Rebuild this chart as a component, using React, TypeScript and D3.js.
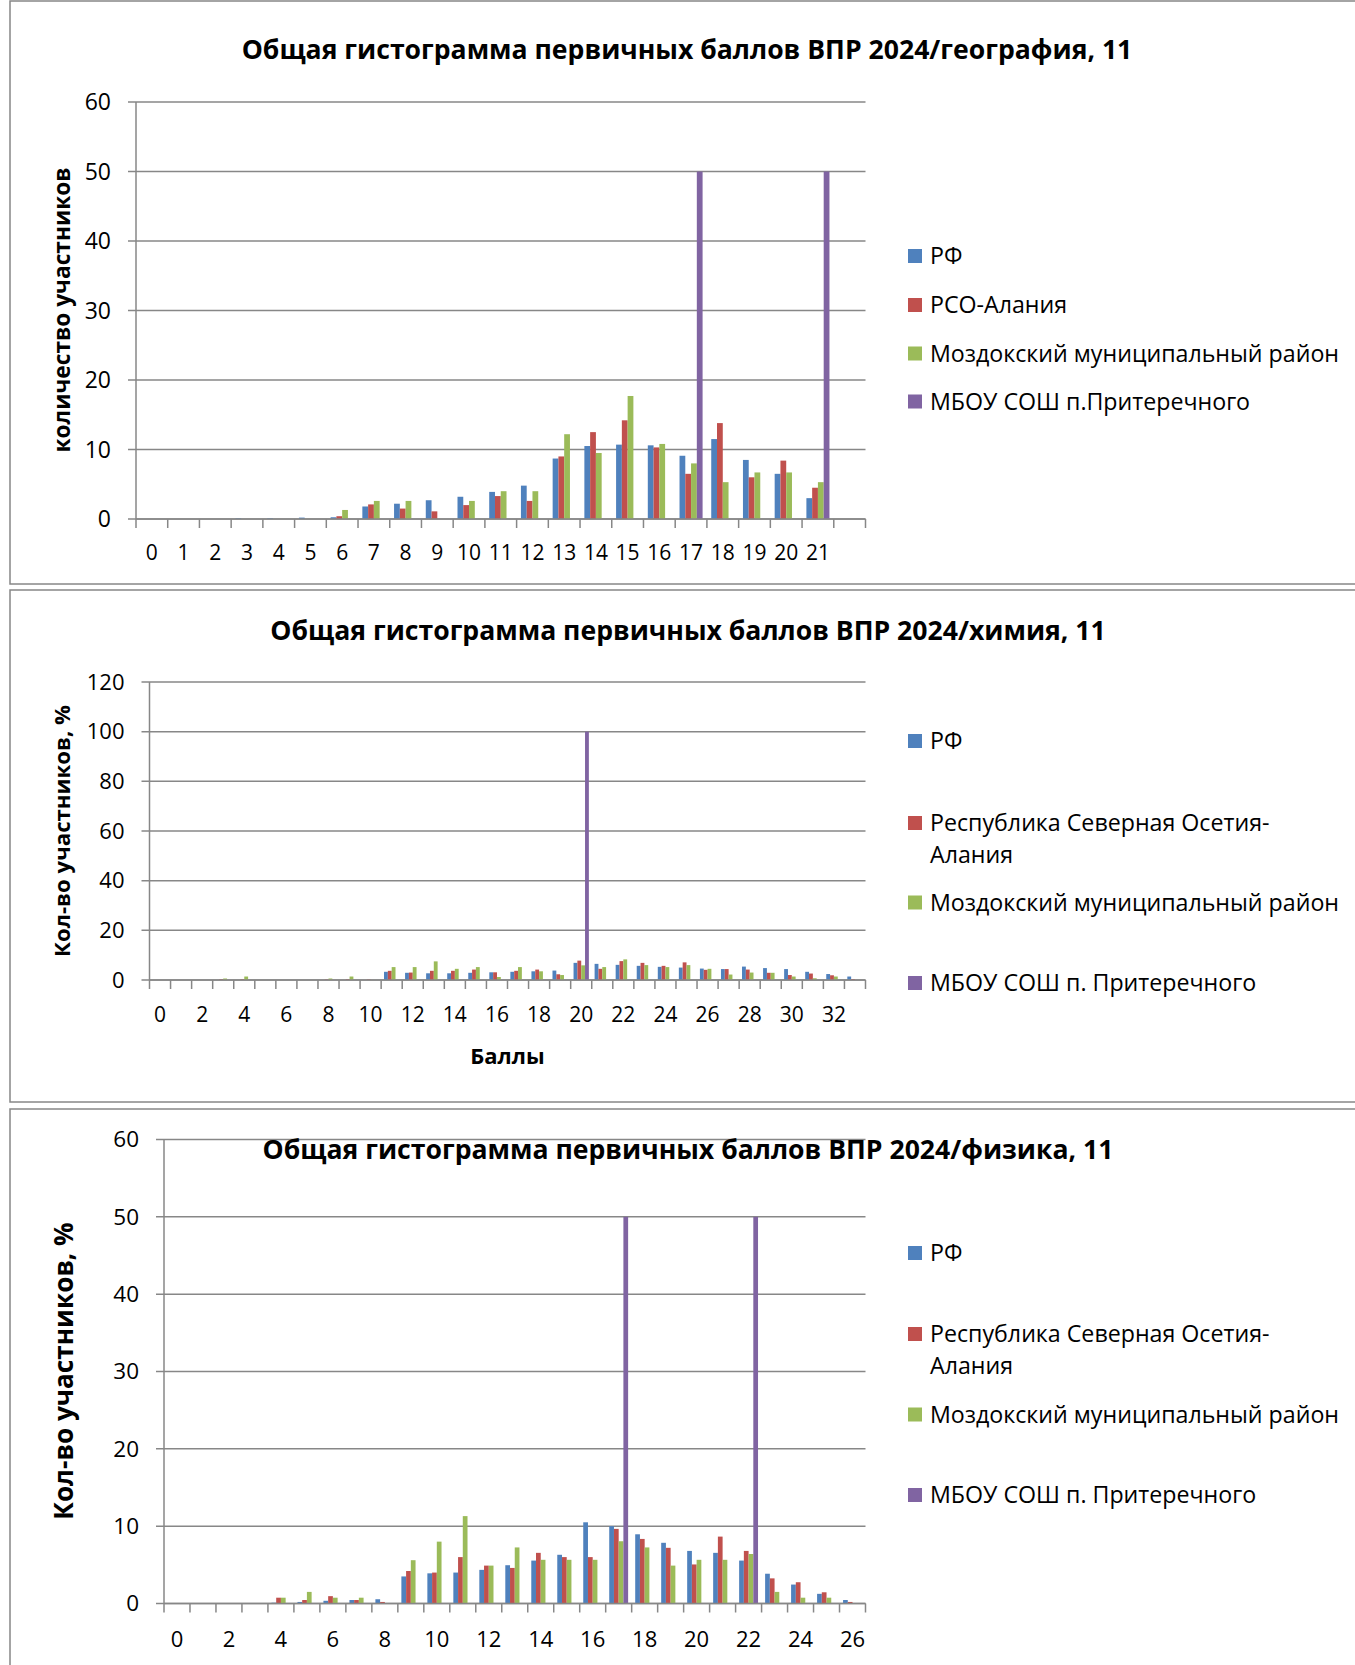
import React from 'react';
import * as d3 from 'd3';

// ---- series names / colours
const seriesKeys = ['rf', 'rso', 'moz', 'school'];
const seriesColors = ['#4F81BD', '#C0504D', '#9BBB59', '#8064A2'];

// ---- chart 1: география
const geoCats = ['0', '1', '2', '3', '4', '5', '6', '7', '8', '9', '10', '11', '12', '13', '14', '15', '16', '17', '18', '19', '20', '21', ''];
const geoRF = [0, 0, 0, 0.1, 0.1, 0.2, 0.25, 1.8, 2.2, 2.7, 3.2, 3.9, 4.8, 8.7, 10.5, 10.7, 10.6, 9.1, 11.5, 8.5, 6.5, 3.0, 0];
const geoRSO = [0, 0, 0, 0, 0, 0, 0.4, 2.1, 1.5, 1.1, 2.0, 3.3, 2.6, 9.0, 12.5, 14.2, 10.3, 6.5, 13.8, 6.0, 8.4, 4.5, 0];
const geoMoz = [0, 0, 0, 0, 0, 0, 1.3, 2.6, 2.6, 0, 2.6, 4.0, 4.0, 12.2, 9.5, 17.7, 10.8, 8.0, 5.3, 6.7, 6.7, 5.3, 0];
const geoSchool = [0, 0, 0, 0, 0, 0, 0, 0, 0, 0, 0, 0, 0, 0, 0, 0, 0, 50, 0, 0, 0, 50, 0];
const geoLegend = ['РФ', 'РСО-Алания', 'Моздокский муниципальный район', 'МБОУ СОШ п.Притеречного'];

// ---- chart 2: химия
const chemCats = ['0', '1', '2', '3', '4', '5', '6', '7', '8', '9', '10', '11', '12', '13', '14', '15', '16', '17', '18', '19', '20', '21', '22', '23', '24', '25', '26', '27', '28', '29', '30', '31', '32', '33'];
const chemRF = [0, 0, 0, 0, 0, 0, 0, 0, 0, 0, 0, 3.3, 2.9, 2.7, 2.7, 2.9, 3.1, 3.3, 3.5, 3.8, 6.9, 6.5, 6.1, 5.7, 5.3, 5.0, 4.6, 4.4, 5.4, 4.8, 4.4, 3.3, 2.4, 1.4];
const chemRSO = [0, 0, 0, 0.3, 0.3, 0, 0, 0, 0.2, 0.3, 0.2, 3.7, 3.0, 3.7, 3.7, 4.2, 3.1, 3.7, 4.2, 2.3, 7.8, 4.5, 7.6, 6.9, 5.7, 7.1, 4.1, 4.4, 4.2, 2.9, 2.0, 2.6, 1.9, 0.4];
const chemMoz = [0, 0, 0, 0.6, 1.4, 0, 0, 0, 0.6, 1.4, 0, 5.2, 5.2, 7.5, 4.5, 5.2, 1.2, 5.2, 3.5, 2.0, 5.9, 5.2, 8.3, 6.0, 5.2, 6.0, 4.5, 2.2, 3.0, 2.9, 1.4, 0.7, 1.4, 0];
const chemSchool = [0, 0, 0, 0, 0, 0, 0, 0, 0, 0, 0, 0, 0, 0, 0, 0, 0, 0, 0, 0, 100, 0, 0, 0, 0, 0, 0, 0, 0, 0, 0, 0, 0, 0];

// ---- chart 3: физика
const phyCats = ['0', '1', '2', '3', '4', '5', '6', '7', '8', '9', '10', '11', '12', '13', '14', '15', '16', '17', '18', '19', '20', '21', '22', '23', '24', '25', '26'];
const phyRF = [0, 0, 0.05, 0.05, 0.1, 0.2, 0.35, 0.45, 0.55, 3.5, 3.9, 4.0, 4.35, 4.95, 5.55, 6.3, 10.5, 10.0, 8.95, 7.85, 6.8, 6.55, 5.55, 3.85, 2.45, 1.25, 0.45];
const phyRSO = [0, 0, 0, 0, 0.75, 0.45, 0.95, 0.45, 0.2, 4.2, 4.0, 6.0, 4.9, 4.6, 6.55, 6.0, 6.0, 9.65, 8.35, 7.2, 5.05, 8.65, 6.8, 3.25, 2.75, 1.45, 0.2];
const phyMoz = [0, 0, 0, 0, 0.75, 1.5, 0.75, 0.75, 0, 5.6, 8.0, 11.3, 4.9, 7.25, 5.65, 5.65, 5.65, 8.05, 7.25, 4.9, 5.65, 5.65, 6.4, 1.5, 0.75, 0.75, 0];
const phySchool = [0, 0, 0, 0, 0, 0, 0, 0, 0, 0, 0, 0, 0, 0, 0, 0, 0, 50, 0, 0, 0, 0, 50, 0, 0, 0, 0];

// legend lines for charts 2 and 3 (second entry wraps)
const longLegend = [['РФ'], ['Республика Северная Осетия-', 'Алания'], ['Моздокский муниципальный район'], ['МБОУ СОШ п. Притеречного']];

const FONT = "'Open Sans', 'DejaVu Sans', sans-serif";
const GRID = '#878787';

function Chart({ cfg }) {
  const { cats, values, yMax, box, labelEvery } = cfg;
  const x0 = d3.scaleBand().domain(cats.map((c, i) => String(i))).range([box.left, box.right]);
  const x1 = d3.scaleBand().domain(seriesKeys).range([0, x0.bandwidth()]).paddingInner(0).paddingOuter(0.75);
  const y = d3.scaleLinear().domain([0, yMax]).range([box.bottom, box.top]);
  const yTicks = y.ticks(6);
  const bounds = d3.range(cats.length + 1).map(i => box.left + i * x0.step());

  return (
    <g fontFamily={FONT}>
      {/* gridlines + y ticks */}
      {yTicks.map(t => (
        <g key={'y' + t}>
          <line x1={box.left - 8} x2={box.right} y1={y(t)} y2={y(t)} stroke={GRID} strokeWidth={1.5} />
          <text x={box.left - 25} y={y(t)} dy="0.35em" textAnchor="end" fontSize={cfg.yFont} fill="#000">{t}</text>
        </g>
      ))}
      {/* title sits under the bars, like the overlap in chart 3 */}
      <text x={cfg.titleX} y={cfg.titleY} dy="0.35em" textAnchor="middle" fontWeight="bold" fontSize={cfg.titleFont}>{cfg.title}</text>
      {/* bars */}
      {cats.map((c, i) => (
        <g key={'b' + i} transform={`translate(${x0(String(i))},0)`}>
          {seriesKeys.map((k, s) => {
            const v = values[s][i];
            if (!v) return null;
            return <rect key={k} x={x1(k)} width={x1.bandwidth()} y={y(v)} height={y(0) - y(v)} fill={seriesColors[s]} />;
          })}
        </g>
      ))}
      {/* axes */}
      <line x1={box.left} x2={box.left} y1={box.top} y2={box.bottom} stroke={GRID} strokeWidth={1.5} />
      <line x1={box.left} x2={box.right} y1={box.bottom} y2={box.bottom} stroke={GRID} strokeWidth={1.5} />
      {bounds.map((bx, i) => (
        <line key={'xt' + i} x1={bx} x2={bx} y1={box.bottom} y2={box.bottom + 9} stroke={GRID} strokeWidth={1.5} />
      ))}
      {cats.map((c, i) => (i % labelEvery === 0 && c !== '') ? (
        <text key={'xl' + i} x={x0(String(i)) + x0.bandwidth() / 2} y={cfg.xLabelY} dy="0.35em" textAnchor="middle" fontSize={cfg.xFont}>{c}</text>
      ) : null)}
      {/* axis titles */}
      <text transform={`translate(${cfg.yTitleX},${cfg.yTitleY}) rotate(-90)`} dy="0.35em" textAnchor="middle" fontWeight="bold" fontSize={cfg.yTitleFont}>{cfg.yTitle}</text>
      {cfg.xTitle && (
        <text x={(box.left + box.right) / 2} y={cfg.xTitleY} dy="0.35em" textAnchor="middle" fontWeight="bold" fontSize={22}>{cfg.xTitle}</text>
      )}
      {/* legend */}
      {cfg.legend.map((lines, s) => (
        <g key={'lg' + s}>
          <rect x={908} y={cfg.legendY[s] - 7} width={14} height={14} fill={seriesColors[s]} />
          {lines.map((ln, j) => (
            <text key={j} x={930} y={cfg.legendY[s] + j * 32} dy="0.35em" fontSize={23.2}>{ln}</text>
          ))}
        </g>
      ))}
    </g>
  );
}

const charts = [
  {
    title: 'Общая гистограмма первичных баллов ВПР 2024/география, 11',
    titleX: 687, titleY: 50, titleFont: 26.6,
    cats: geoCats, values: [geoRF, geoRSO, geoMoz, geoSchool], yMax: 60,
    box: { left: 136, right: 865.5, top: 102, bottom: 519 },
    labelEvery: 1, yFont: 23, xFont: 21, xLabelY: 553,
    yTitle: 'количество участников', yTitleX: 62, yTitleY: 310, yTitleFont: 22.7,
    legend: geoLegend.map(l => [l]), legendY: [256, 305, 353.5, 401.5],
  },
  {
    title: 'Общая гистограмма первичных баллов ВПР 2024/химия, 11',
    titleX: 688, titleY: 631, titleFont: 26.6,
    cats: chemCats, values: [chemRF, chemRSO, chemMoz, chemSchool], yMax: 120,
    box: { left: 149.5, right: 865.5, top: 682, bottom: 980 },
    labelEvery: 2, yFont: 22, xFont: 21, xLabelY: 1015,
    yTitle: 'Кол-во участников, %', yTitleX: 62, yTitleY: 831, yTitleFont: 22.2,
    xTitle: 'Баллы', xTitleY: 1056,
    legend: longLegend, legendY: [741, 823, 902.5, 983],
  },
  {
    title: 'Общая гистограмма первичных баллов ВПР 2024/физика, 11',
    titleX: 688, titleY: 1150, titleFont: 26.6,
    cats: phyCats, values: [phyRF, phyRSO, phyMoz, phySchool], yMax: 60,
    box: { left: 164, right: 865.5, top: 1139.5, bottom: 1603.5 },
    labelEvery: 2, yFont: 22.5, xFont: 22, xLabelY: 1639,
    yTitle: 'Кол-во участников, %', yTitleX: 64, yTitleY: 1371, yTitleFont: 26.2,
    legend: longLegend, legendY: [1253, 1334, 1414.5, 1495],
  },
];

export default function App() {
  return (
    <div style={{ position: 'absolute', left: 0, top: 0, width: 1355, height: 1665, overflow: 'hidden', background: '#fff' }}>
      <svg width={1355} height={1665} style={{ display: 'block' }}>
        <rect x={0} y={0} width={1355} height={1665} fill="#fff" />
        {/* chart frames */}
        <rect x={10} y={1} width={1400} height={583} fill="none" stroke={GRID} strokeWidth={1.5} />
        <rect x={10} y={590} width={1400} height={512} fill="none" stroke={GRID} strokeWidth={1.5} />
        <rect x={10} y={1109} width={1400} height={620} fill="none" stroke={GRID} strokeWidth={1.5} />
        {charts.map((c, i) => <Chart key={i} cfg={c} />)}
      </svg>
    </div>
  );
}
